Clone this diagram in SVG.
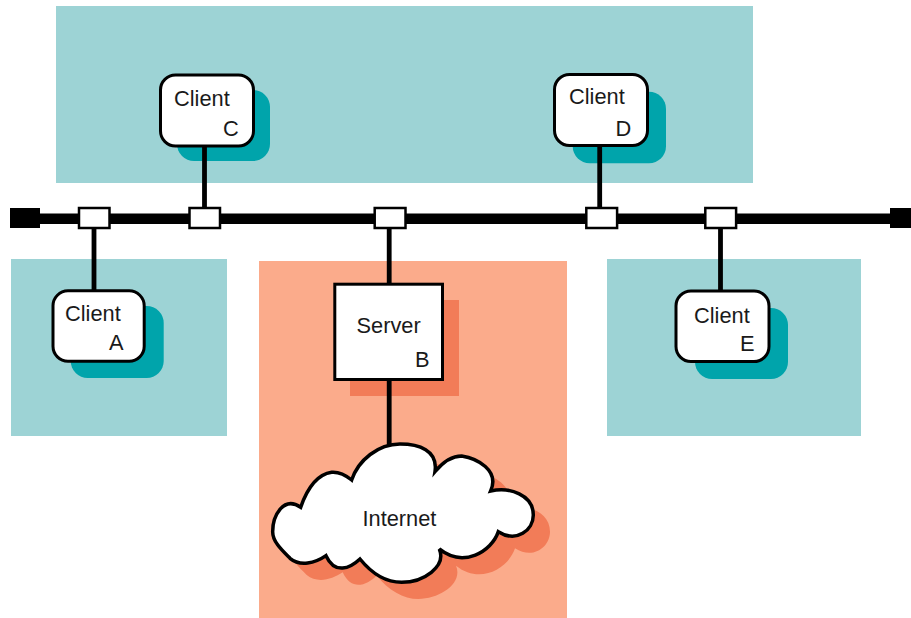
<svg xmlns="http://www.w3.org/2000/svg" width="911" height="618" viewBox="0 0 911 618">
<style>
text{font-family:"Liberation Sans",Arial,Helvetica,sans-serif;font-size:21.800px;fill:#1a1a1a}
.zt{fill:#9dd3d5}.zo{fill:#fbab8b}
.st{fill:#00a4ab}.so{fill:#f27c58}
.b{fill:#fff;stroke:#000;stroke-width:3}
.w{stroke:#000;stroke-width:4.800;fill:none}
.tap{fill:#fff;stroke:#000;stroke-width:2.500}
.c{stroke-width:10.500}
</style>
<defs>
<path id="cloud" d="M152,262C165,225 190,165 245,157C270,155 290,168 305,180C325,120 385,72 450,72C505,72 565,90 555,155C580,125 605,108 635,108C680,115 750,150 722,213C780,200 850,225 850,285C850,330 800,370 745,335C725,395 640,445 568,387C590,440 520,487 455,487C410,487 365,460 330,417C300,445 255,465 228,407C195,430 150,440 120,415C95,390 68,365 68,335C68,290 100,225 152,262Z"/>
</defs>
<rect id="zone-top" class="zt" x="56" y="6" width="697" height="177"/>
<rect id="zone-a" class="zt" x="11" y="259" width="216" height="177"/>
<rect id="zone-server" class="zo" x="259" y="261" width="308" height="357"/>
<rect id="zone-e" class="zt" x="607" y="259" width="254" height="177"/>
<g id="client-c">
<rect class="st" x="177" y="90" width="93" height="71" rx="17"/>
<rect class="b" x="160.500" y="75" width="93" height="71" rx="15"/>
<text x="174" y="106">Client</text><text x="223" y="136">C</text>
</g>
<g id="client-d">
<rect class="st" x="572.700" y="91.700" width="93.300" height="71.600" rx="17"/>
<rect class="b" x="554.500" y="74.500" width="93" height="71" rx="15"/>
<text x="569" y="104">Client</text><text x="615.600" y="136">D</text>
</g>
<g id="client-a">
<rect class="st" x="70.700" y="306" width="93" height="72" rx="17"/>
<rect class="b" x="53" y="290.800" width="91.200" height="70.500" rx="15"/>
<text x="65" y="321">Client</text><text x="109" y="350">A</text>
</g>
<g id="client-e">
<rect class="st" x="695" y="308" width="93" height="71" rx="17"/>
<rect class="b" x="676" y="291" width="93" height="70.500" rx="15"/>
<text x="694" y="323">Client</text><text x="740" y="351">E</text>
</g>
<g id="server-b">
<rect class="so" x="350" y="300" width="109" height="96"/>
<rect class="b" x="334.800" y="284.200" width="107.700" height="95.300"/>
<text x="356.500" y="332.700">Server</text><text x="415" y="366.700">B</text>
</g>
<g id="connectors">
<rect x="10" y="208" width="30" height="20" fill="#000"/>
<rect x="890" y="208" width="21" height="20" fill="#000"/>
<rect x="40" y="213.500" width="850" height="10.500" fill="#000"/>
<path class="w" d="M94 228V291M204.500 147V208M389.200 228V284M389.200 380V446M599.700 146V208M720.500 228V291"/>
</g>
<g id="internet">
<use href="#cloud" class="so" transform="translate(266.700 436.700) scale(.3333)"/>
<use href="#cloud" class="b c" transform="translate(250 420) scale(.3333)"/>
<text x="362.500" y="526">Internet</text>
</g>
<g id="tap-a"><rect class="tap" x="79" y="208" width="30.500" height="20"/></g>
<g id="tap-c"><rect class="tap" x="189.500" y="208" width="30.500" height="20"/></g>
<g id="tap-b"><rect class="tap" x="374.700" y="208" width="30.800" height="20"/></g>
<g id="tap-d"><rect class="tap" x="586.300" y="208" width="30.800" height="20"/></g>
<g id="tap-e"><rect class="tap" x="705.300" y="208" width="30.800" height="20"/></g>
</svg>
